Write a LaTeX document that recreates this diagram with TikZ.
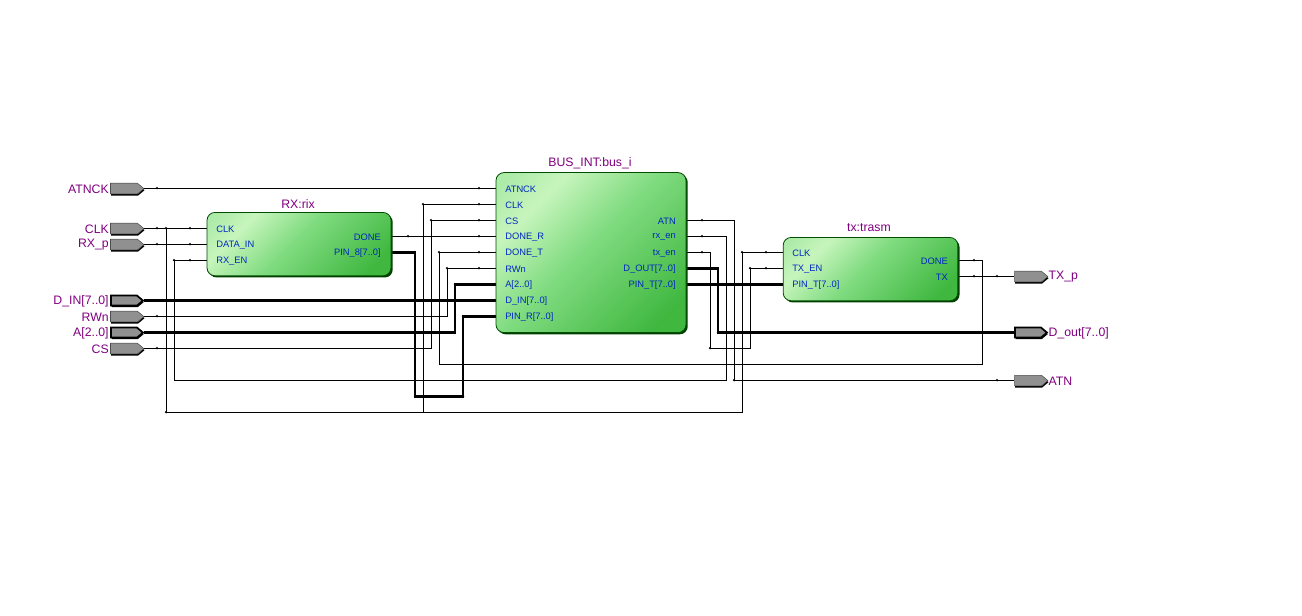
\documentclass[tikz,border=0pt]{standalone}
\usepackage{fontspec}
\setmainfont{Liberation Sans}
\usetikzlibrary{shapes.symbols,shadows}
\definecolor{ttl}{HTML}{800080}
\definecolor{prt}{HTML}{0028C0}
\definecolor{pgray}{HTML}{909090}
\pgfdeclareverticalshading{blockshade}{100bp}{
  rgb(0bp)=(0.25,0.72,0.25);
  rgb(22bp)=(0.25,0.72,0.25);
  rgb(52bp)=(0.50,0.86,0.50);
  rgb(71bp)=(0.78,0.96,0.74);
  rgb(82bp)=(0.68,0.92,0.66);
  rgb(100bp)=(0.68,0.92,0.66)}
\tikzset{
  block/.style={draw=black!70!green,line width=.6pt,rounded corners=6pt,inner sep=0pt,
    general shadow={fill=black!75!green,shadow xshift=1.3pt,shadow yshift=-1.3pt,rounded corners=6pt},
    shading=blockshade,shading angle=45},
  ttltext/.style={text=ttl,font=\fontsize{9.2}{10}\selectfont,inner sep=0pt},
  portL/.style={text=prt,font=\fontsize{7}{8}\selectfont,inner sep=0pt,anchor=west,yshift=-.4pt},
  portR/.style={text=prt,font=\fontsize{7}{8}\selectfont,inner sep=0pt,anchor=east,yshift=-.4pt},
  pin/.style={shape=signal,signal to=east,signal pointer angle=80,fill=pgray,draw=black!70,line width=.4pt,
    inner sep=0pt,minimum width=25pt,minimum height=8pt,
    general shadow={fill=black,shadow xshift=.5pt,shadow yshift=-1.2pt}},
  buspin/.style={pin,draw=black,line width=1.3pt,minimum width=24pt,minimum height=7.5pt},
  wire/.style={draw=black,line width=.75pt,line join=miter},
  bus/.style={draw=black,line width=1.9pt,line join=miter},
  tick/.style={fill=black}
}
\begin{document}
\begin{tikzpicture}[x=.75pt,y=-.75pt]
\useasboundingbox (0,0) rectangle (1302,616);
\begin{scope}[shift={(0,.6)}]
% pins
\node[pin] (iATNCK) at (124,188) {};
\node[pin] (iCLK) at (124,228) {};
\node[pin] (iRX) at (124,244) {};
\node[buspin] (iDIN) at (124,300) {};
\node[pin] (iRWN) at (124,316) {};
\node[buspin] (iA) at (124,332) {};
\node[pin] (iCS) at (124,348) {};
\node[pin] (oTX) at (1028,276) {};
\node[buspin] (oD) at (1028,332) {};
\node[pin] (oATN) at (1028,380) {};
\foreach \n/\t in {iATNCK/ATNCK,iCLK/CLK,iRX/RX\_p,iDIN/D\_IN[7..0],iRWN/RWn,iA/A[2..0],iCS/CS}
  \node[ttltext,anchor=east,yshift=-.3pt] at ([xshift=-.9pt]\n.west) {\t};
\foreach \n/\t in {oTX/TX\_p,oD/D\_out[7..0],oATN/ATN}
  \node[ttltext,anchor=west,yshift=-.3pt] at ([xshift=.1pt]\n.east) {\t};
% block ports
\foreach \n/\x/\y in {rCLK/207/228,rDATA/207/244,rEN/207/260,rDONE/392/236,rPIN/392/252,
  bATNCK/496/188,bCLK/496/204,bCS/496/220,bDR/496/236,bDT/496/252,bRW/496/268,bA/496/284,bD/496/300,bPR/496/316,
  bATN/687/220,bRX/687/236,bTX/687/252,bDO/687/268,bPT/687/284,
  tCLK/783/252,tEN/783/268,tPT/783/284,tDONE/959/260,tTX/959/276}
  \coordinate (\n) at (\x,\y);
% wires
\draw[wire] (iATNCK.east) -- (bATNCK);
\draw[wire] (iCLK.east) -- (rCLK);
\draw[wire] (iRX.east) -- (rDATA);
\draw[wire] (iRWN.east) -- (447,316) -- (447,268) -- (bRW);
\draw[wire] (iCS.east) -- (431,348) -- (431,220) -- (bCS);
\draw[wire] (166,228) -- (166,412) -- (742,412) -- (742,252) -- (tCLK);
\draw[wire] (423,412) -- (423,204) -- (bCLK);
\draw[wire] (rEN) -- (174,260) -- (174,380) -- (726,380) -- (726,236) -- (bRX);
\draw[wire] (rDONE) -- (bDR);
\draw[wire] (tDONE) -- (982,260) -- (982,364) -- (439,364) -- (439,252) -- (bDT);
\draw[wire] (bATN) -- (734,220) -- (734,380) -- (oATN.west);
\draw[wire] (bTX) -- (710,252) -- (710,348) -- (750,348) -- (750,268) -- (tEN);
\draw[wire] (tTX) -- (oTX.west);
\draw[bus] (iDIN.east) -- (bD);
\draw[bus] (iA.east) -- (455,332) -- (455,284) -- (bA);
\draw[bus] (rPIN) -- (415,252) -- (415,396) -- (463,396) -- (463,316) -- (bPR);
\draw[bus] (bDO) -- (718,268) -- (718,332) -- (oD.west);
\draw[bus] (bPT) -- (tPT);
% small marks
\foreach \x/\y in {157/188,157/228,157/244,157/300,157/316,157/332,157/348,
  190/228,190/244,190/260,166/228,174/260,166/412,
  408/236,408/252,415/396,463/396,
  479/188,479/204,479/220,479/236,479/252,479/268,479/284,479/300,479/316,
  423/204,431/220,439/252,447/268,455/284,463/316,
  702/220,702/236,702/252,702/268,702/284,710/348,718/332,734/380,
  766/252,766/268,766/284,742/252,750/268,
  974/260,974/276,997/276,997/332,997/380}
  \fill[tick] (\x,\y-.4) circle (1.3);
% blocks
\node[block,minimum width=138pt,minimum height=47.5pt] (rix) at (299,243.5) {};
\node[block,minimum width=142.5pt,minimum height=120pt] (bus) at (591,252) {};
\node[block,minimum width=131pt,minimum height=47.5pt] (trasm) at (870.5,268.5) {};
\node[ttltext] at (298,203) {RX:rix};
\node[ttltext] at (590,163) {BUS\_INT:bus\_i};
\node[ttltext] at (869,227) {tx:trasm};
\foreach \y/\t in {228/CLK,244/DATA\_IN,260/RX\_EN} \node[portL] at (216,\y) {\t};
\foreach \y/\t in {236/DONE,252/PIN\_8[7..0]} \node[portR] at (381,\y) {\t};
\foreach \y/\t in {188/ATNCK,204/CLK,220/CS,236/DONE\_R,252/DONE\_T,268/RWn,284/A[2..0],300/D\_IN[7..0],316/PIN\_R[7..0]} \node[portL] at (505,\y) {\t};
\foreach \y/\t in {220/ATN,236/rx\_en,252/tx\_en,268/D\_OUT[7..0],284/PIN\_T[7..0]} \node[portR] at (676,\y) {\t};
\foreach \y/\t in {252/CLK,268/TX\_EN,284/PIN\_T[7..0]} \node[portL] at (792,\y) {\t};
\foreach \y/\t in {260/DONE,276/TX} \node[portR] at (948,\y) {\t};
\end{scope}
\end{tikzpicture}
\end{document}
